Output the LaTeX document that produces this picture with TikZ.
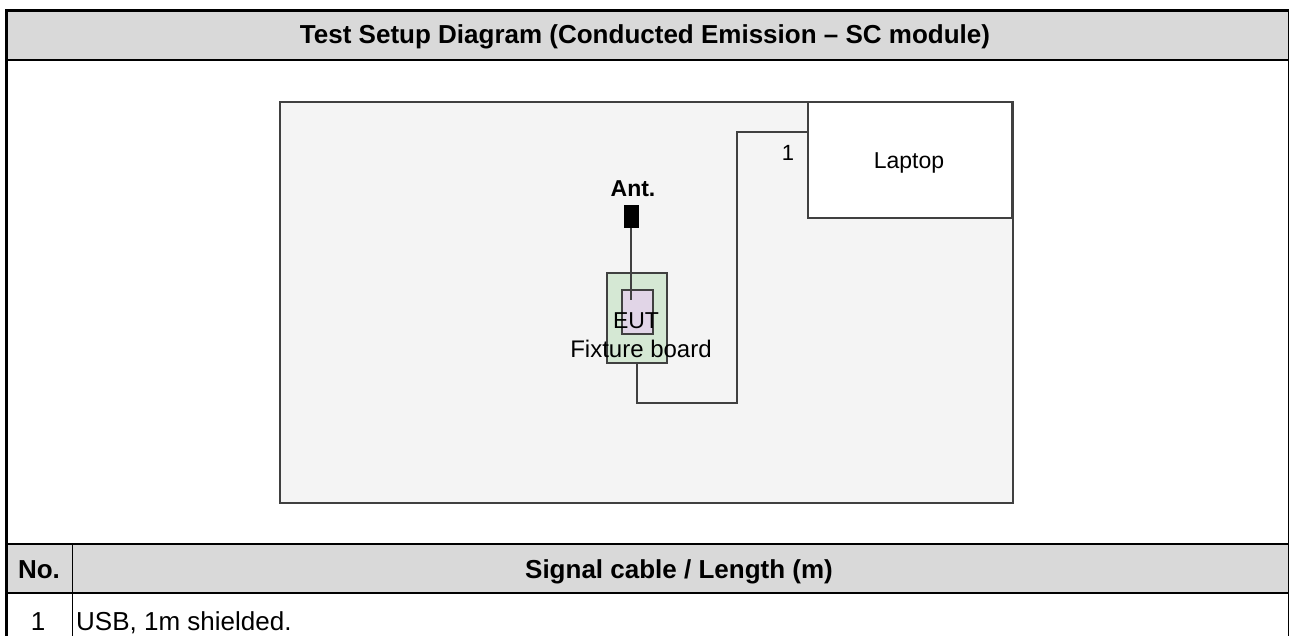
\documentclass[tikz,border=0pt]{standalone}
\usepackage{fontspec}
\setmainfont{Liberation Sans}
\definecolor{hdrgray}{HTML}{D9D9D9}
\definecolor{bggray}{HTML}{F4F4F4}
\definecolor{edgegray}{HTML}{404040}
\definecolor{fixgreen}{HTML}{D5E8D4}
\definecolor{eutpurple}{HTML}{E1D5E7}
\tikzset{
  box/.style={draw=edgegray, line width=1.6pt, inner sep=0pt, rectangle},
  txt/.style={inner sep=0pt, anchor=base, text=black},
  cable/.style={draw=edgegray, line width=1.8pt},
}
\newcommand{\fs}[1]{\fontsize{#1}{#1}\selectfont}
\begin{document}
\begin{tikzpicture}[x=1pt,y=-1pt]
\useasboundingbox (0,0) rectangle (1290,636);
% table fills
\fill[white] (0,0) rectangle (1290,636);
\fill[hdrgray] (6.5,10.5) rectangle (1288.5,60);
\fill[hdrgray] (6.5,544) rectangle (1288.5,593);
% table lines
\draw[line width=3pt] (6.5,636) -- (6.5,10.5) -- (1289,10.5);
\draw[line width=1.5pt] (1288.5,10.5) -- (1288.5,636);
\draw[line width=2.4pt] (6.5,60) -- (1289,60);
\draw[line width=2.4pt] (6.5,544) -- (1289,544);
\draw[line width=2.4pt] (6.5,593) -- (1289,593);
\draw[line width=1.5pt] (72.5,544) -- (72.5,636);
% table texts
\node[txt, font=\fs{26}\bfseries] (title) at (645,44) {Test Setup Diagram (Conducted Emission – SC module)};
\node[txt, font=\fs{26}\bfseries] (hno) at (39,578) {No.};
\node[txt, font=\fs{26}\bfseries] (hsig) at (679,578) {Signal cable / Length (m)};
\node[txt, font=\fs{26}] (r1no) at (38,630) {1};
\node[txt, font=\fs{26}, anchor=base west] (r1sig) at (76,630) {USB, 1m shielded.};
% diagram area
\node[box, fill=bggray, minimum width=733pt, minimum height=401pt] (area) at (646.5,302.5) {};
\node[box, fill=white, minimum width=204pt, minimum height=116pt] (laptop) at (910,160) {};
\node[txt, font=\fs{23}] (laptoptxt) at (909,169) {Laptop};
\node[txt, font=\fs{22}] (cablenum) at (788,161) {1};
\node[box, fill=fixgreen, minimum width=60pt, minimum height=90pt] (fixture) at (637,318) {};
\node[box, fill=eutpurple, minimum width=31pt, minimum height=44pt] (eut) at (637.5,312) {};
\node[draw=black, fill=black, inner sep=0pt, minimum width=14pt, minimum height=22pt] (ant) at (631,216.5) {};
\node[txt, font=\fs{23}\bfseries] (anttxt) at (633,197) {Ant.};
\coordinate (antend) at (631,300);
\draw[cable] (ant.south) -- (antend);
\node[txt, font=\fs{23}] (euttxt) at (636,328) {EUT};
\node[txt, font=\fs{24}] (fixtxt) at (641,357) {Fixture board};
% USB cable
\coordinate (c1) at (637,403);
\coordinate (c2) at (737,403);
\coordinate (c3) at (737,132);
\draw[cable] (fixture.south -| c1) -- (c1) -- (c2) -- (c3) -- (c3 -| laptop.west);
\end{tikzpicture}
\end{document}
